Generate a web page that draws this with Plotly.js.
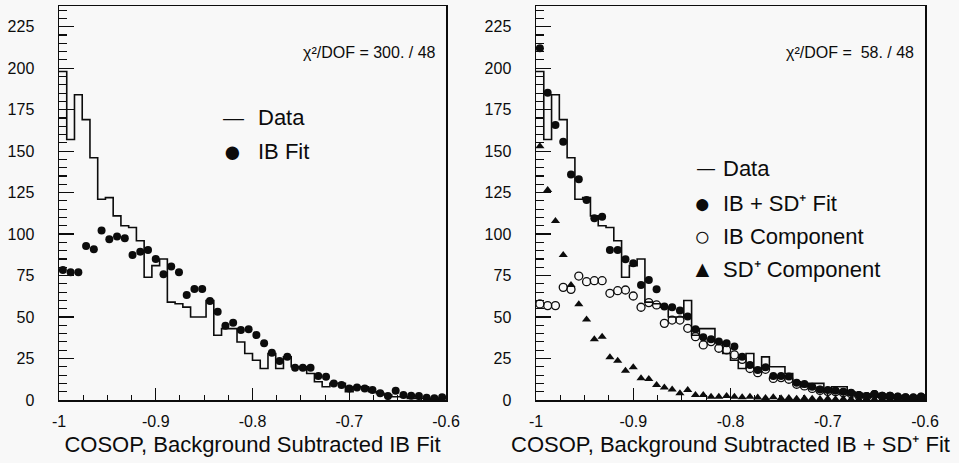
<!DOCTYPE html>
<html>
<head>
<meta charset="utf-8">
<script src="https://cdn.plot.ly/plotly-3.0.1.min.js"></script>
<style>html,body{margin:0;padding:0;background:#f8f8f8;}#chart{width:959px;height:463px;}</style>
</head>
<body>
<div id="chart"></div>
<script>
// Histogram binning: 50 bins of width 0.008 from -1 to -0.6
const binStart = -1;
const binWidth = 0.008;

// Data histogram (same in both panels)
const dataCounts = [198, 157, 184, 169, 146, 121, 122, 111, 105, 104,
  96, 74, 81, 85, 59, 58, 56, 50, 50, 60,
  39, 43, 43, 35, 28, 24, 19, 28, 19, 26,
  20, 20, 16, 11, 8, 10, 10, 5, 8, 8,
  5, 4, 3, 2, 2, 1, 1, 1, 0.5, 1];

// Left panel: IB fit
const ibFitLeft = [78.4, 77, 77, 92.8, 90.8, 102.1, 96.9, 98.5, 97.5, 87.4,
  89.4, 90.4, 85, 75.8, 80.4, 77, 63.3, 66.9, 66.9, 59.7,
  53.2, 44.8, 46.6, 42.2, 42.6, 39.2, 34.2, 28.5, 23.5, 26.1,
  19.5, 19.5, 19.5, 14.5, 14, 10, 9, 7, 7.6, 7,
  6, 4, 2.4, 5.6, 3, 2.6, 2.4, 1.4, 1, 1.6];

// Right panel: IB + SD+ fit, IB component, SD+ component
const ibsdFit = [212, 185.2, 165.8, 155.7, 136, 133, 120.6, 109.5, 110.5, 90.4,
  90.4, 84.8, 82.4, 69.3, 72.3, 66.7, 56.3, 55.9, 53.9, 50.3,
  42.6, 37.8, 36.6, 35.2, 34.2, 32.2, 26.1, 21.1, 18.1, 19.7,
  14.5, 14.5, 14.1, 10.4, 9.6, 8, 6.4, 6, 5.6, 5,
  4.4, 3, 2.4, 3.6, 2.6, 2.6, 2, 1.6, 1.4, 2];
const ibComponent = [57.9, 56.9, 56.9, 67.9, 66.7, 74.7, 71.3, 71.9, 71.9, 64.3,
  65.9, 66.3, 62.7, 55.9, 58.7, 57.3, 46.2, 48.2, 48.2, 43.2,
  38.2, 33.2, 35.2, 31.2, 30.2, 27.2, 24.5, 19, 16.5, 18.5,
  13, 13.5, 12.5, 9.5, 8.5, 7, 5.8, 5.2, 5, 4.4,
  3.8, 2.6, 2, 3.2, 2.2, 2.2, 1.7, 1.3, 1.2, 1.7];
const sdComponent = [153, 126.6, 107.9, 87.4, 69.3, 57.7, 48.6, 36.6, 38.2, 25.7,
  23.7, 17.7, 19.7, 13.1, 12.7, 9, 7.6, 6.4, 4, 6,
  3, 3, 2, 2, 2.4, 2, 1.6, 2, 1.5, 1.2,
  1.6, 1, 1.2, 0.8, 1, 0.8, 0.6, 0.8, 0.5, 0.6,
  0.5, 0.4, 0.5, 0.4, 0.3, 0.4, 0.3, 0.3, 0.2, 0.3];

const xTickVals = [-1, -0.9, -0.8, -0.7, -0.6];
const xTickText = ['-1', '-0.9', '-0.8', '-0.7', '-0.6'];
const yTickVals = [0, 25, 50, 75, 100, 125, 150, 175, 200, 225];
const yTickText = ['0', '25', '50', '75', '100', '125', '150', '175', '200', '225'];

const xTitleLeft = 'COSOP, Background Subtracted IB Fit';
const xTitleRight = 'COSOP, Background Subtracted IB + SD⁺ Fit';
const chiLeft = 'χ²/DOF = 300. / 48';
const chiRight = 'χ²/DOF =  58. / 48';

// derived bin geometry
const nb = dataCounts.length;
const centers = dataCounts.map((_, i) => binStart + binWidth * (i + 0.5));
const edges = dataCounts.map((_, i) => binStart + binWidth * i).concat([binStart + binWidth * nb]);
const stepY = dataCounts.concat([dataCounts[nb - 1]]);

const INK = '#0c0c0c';
const FONT = 'Liberation Sans, Arial, Helvetica, sans-serif';

function histTrace(xa, ya) {
  return {x: edges, y: stepY, xaxis: xa, yaxis: ya, type: 'scatter', mode: 'lines',
    line: {shape: 'hv', color: INK, width: 1.6}, name: 'Data', hoverinfo: 'skip'};
}
function ptsTrace(vals, xa, ya, symbol, name) {
  const open = symbol === 'circle-open';
  return {x: centers, y: vals, xaxis: xa, yaxis: ya, type: 'scatter', mode: 'markers', name: name,
    marker: {symbol: symbol, size: 8, color: INK,
      line: {color: INK, width: open ? 1.3 : 0}}};
}

const traces = [
  histTrace('x', 'y'),
  ptsTrace(ibFitLeft, 'x', 'y', 'circle', 'IB Fit'),
  histTrace('x2', 'y2'),
  ptsTrace(sdComponent, 'x2', 'y2', 'triangle-up', 'SD+ Component'),
  ptsTrace(ibComponent, 'x2', 'y2', 'circle-open', 'IB Component'),
  ptsTrace(ibsdFit, 'x2', 'y2', 'circle', 'IB + SD+ Fit')
];

function xAxis(domain, title, anchor) {
  return {domain: domain, anchor: anchor, range: [-1, -0.6], tickmode: 'array',
    tickvals: xTickVals, ticktext: xTickText, ticks: 'inside', ticklen: 12, tickwidth: 1.3,
    tickcolor: INK, showline: true, mirror: true, linecolor: INK, linewidth: 1.5,
    showgrid: false, zeroline: false, ticklabelstandoff: 6,
    tickfont: {family: FONT, size: 16, color: INK},
    minor: {tick0: -1, dtick: 0.025, ticks: 'inside', ticklen: 5, tickwidth: 1.1, tickcolor: INK, showgrid: false},
    title: {text: title, font: {family: FONT, size: 22, color: INK}, standoff: 8}};
}
function yAxis(anchor) {
  return {domain: [0, 1], anchor: anchor, range: [0, 237.5], tickmode: 'array',
    tickvals: yTickVals, ticktext: yTickText, ticks: 'inside', ticklen: 15, tickwidth: 1.3,
    tickcolor: INK, showline: true, mirror: true, linecolor: INK, linewidth: 1.5,
    showgrid: false, zeroline: false, ticklabelstandoff: 20,
    tickfont: {family: 'Liberation Sans Narrow, ' + FONT, size: 16, color: INK},
    minor: {tick0: 0, dtick: 5, ticks: 'inside', ticklen: 8, tickwidth: 1.1, tickcolor: INK, showgrid: false}};
}

function ann(x, y, text, size, anchor) {
  return {xref: 'paper', yref: 'paper', x: x, y: y, text: text, showarrow: false,
    xanchor: anchor || 'left', yanchor: 'middle', font: {family: FONT, size: size, color: INK}};
}
const W = 959, PT = 400, PH = 394;
const px = v => v / W, py = v => (PT - v) / PH;

const layout = {
  width: 959, height: 463,
  margin: {l: 0, r: 0, t: 6, b: 63},
  paper_bgcolor: '#f8f8f8', plot_bgcolor: '#f8f8f8',
  showlegend: false,
  xaxis: xAxis([59 / W, 446 / W], xTitleLeft, 'y'),
  yaxis: yAxis('x'),
  xaxis2: xAxis([536 / W, 925 / W], xTitleRight, 'y2'),
  yaxis2: yAxis('x2'),
  annotations: [
    ann(px(438), py(53), chiLeft, 16, 'right'),
    ann(px(916), py(53), chiRight, 16, 'right'),
    ann(px(233), py(117), '—', 21, 'center'),
    ann(px(256), py(117), 'Data', 22),
    ann(px(232), py(151), '●', 31, 'center'),
    ann(px(256), py(151), 'IB Fit', 22),
    ann(px(706), py(168), '—', 18, 'center'),
    ann(px(721), py(168), 'Data', 22),
    ann(px(702), py(203), '●', 28, 'center'),
    ann(px(721), py(203), 'IB + SD⁺ Fit', 22),
    ann(px(702), py(236), '○', 28, 'center'),
    ann(px(721), py(236), 'IB Component', 22),
    ann(px(702), py(269), '▲', 23, 'center'),
    ann(px(721), py(269), 'SD⁺ Component', 22)
  ]
};

Plotly.newPlot('chart', traces, layout, {displayModeBar: false, staticPlot: true});
</script>
</body>
</html>
